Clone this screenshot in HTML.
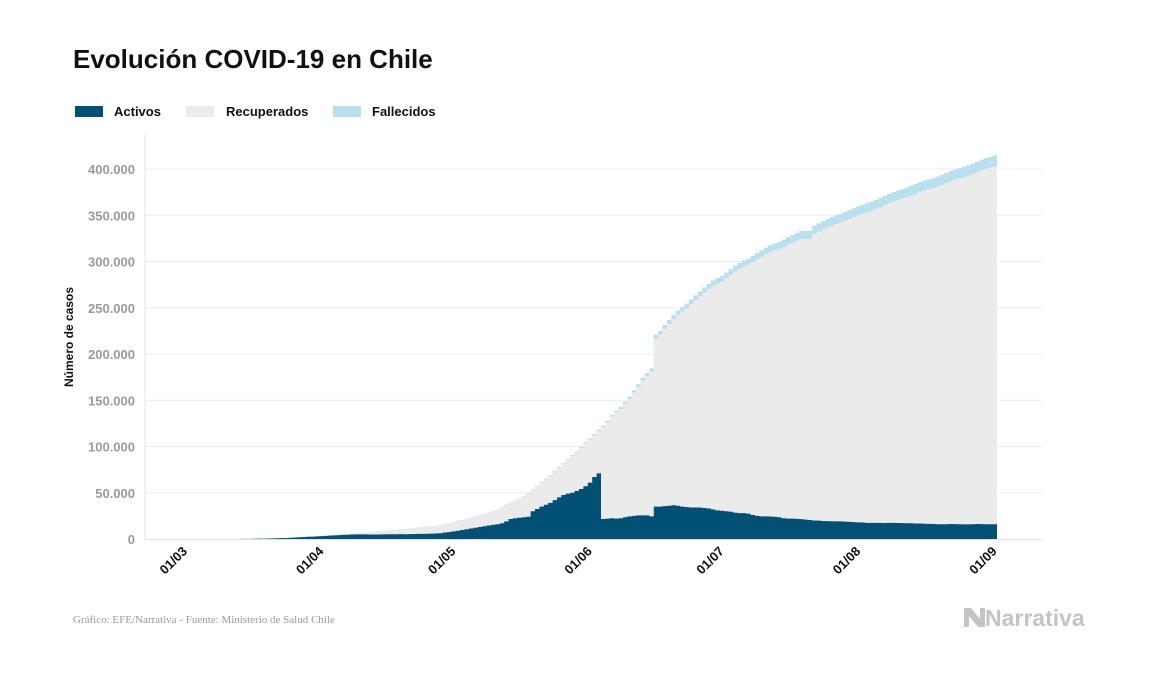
<!DOCTYPE html>
<html><head><meta charset="utf-8">
<style>
html,body{margin:0;padding:0;background:#fff;}
body{width:1157px;height:674px;overflow:hidden;font-family:"Liberation Sans",sans-serif;}
</style></head>
<body>
<svg id="chart" width="1157" height="674" viewBox="0 0 1157 674" xmlns="http://www.w3.org/2000/svg">
  <text x="73" y="68" font-family="Liberation Sans, sans-serif" font-size="26" font-weight="bold" fill="#111">Evolución COVID-19 en Chile</text>
  <g font-family="Liberation Sans, sans-serif" font-size="13" font-weight="bold" fill="#111">
    <g>
      <rect x="75" y="106" width="28" height="11" fill="#025076"/>
      <text x="114" y="116">Activos</text>
    </g>
    <g>
      <rect x="186" y="106" width="28" height="11" fill="#ebebeb"/>
      <text x="226" y="116">Recuperados</text>
    </g>
    <g>
      <rect x="333" y="106" width="28" height="11" fill="#b8e0ef"/>
      <text x="372" y="116">Fallecidos</text>
    </g>
  </g>
  <line x1="145" y1="134" x2="145" y2="539" stroke="#e6e6e6" stroke-width="1"/>
  <g id="grid"></g>
  <g id="areas"></g>
  <g id="xticks"></g>
  <text transform="translate(73,337) rotate(-90)" text-anchor="middle" font-family="Liberation Sans, sans-serif" font-size="12" font-weight="bold" fill="#111">Número de casos</text>
  <text x="73" y="623" font-family="Liberation Serif, serif" font-size="11" fill="#999">Gráfico: EFE/Narrativa - Fuente: Ministerio de Salud Chile</text>
  <g>
    <path d="M964 608 L971 608 L980 619 L980 608 L985 608 L985 627 L978 627 L969 616 L969 627 L964 627 Z" fill="#c4c4c4"/>
    <text x="985" y="626" font-family="Liberation Sans, sans-serif" font-size="23" font-weight="bold" fill="#c4c4c4">Narrativa</text>
  </g>
</svg>
<script>
// Data: day 1 = first plotted day; values in thousands of cases
const casos = [0.001,0.003,0.004,0.005,0.007,0.010,0.013,0.017,0.023,0.033,0.043,0.061,0.075,0.156,0.201,0.238,0.342,0.434,0.537,0.632,0.746,0.922,1.142,1.306,1.610,1.909,2.139,2.449,2.738,
3.031,3.404,3.737,4.161,4.471,4.815,5.116,5.546,5.972,6.501,6.927,7.213,7.525,7.917,8.273,8.807,9.252,9.730,10.088,10.507,10.832,11.296,11.812,12.306,12.858,13.331,13.813,14.365,14.885,16.023,
17.008,18.435,19.663,20.643,22.016,23.048,24.581,25.972,27.219,28.866,30.063,31.721,34.381,37.040,39.542,41.428,43.781,46.059,49.579,53.617,57.581,61.857,65.393,69.102,73.997,77.961,82.289,86.943,90.638,94.858,99.688,
105.159,108.686,113.628,118.292,122.499,127.745,134.150,138.846,142.759,148.496,154.092,160.846,167.355,174.293,179.436,184.449,220.628,225.103,231.393,236.748,242.355,246.963,250.767,254.416,259.064,263.360,267.766,271.982,275.999,279.393,
282.043,284.541,288.089,291.847,295.532,298.557,301.019,303.083,306.216,309.274,312.029,315.041,317.657,319.493,321.205,323.698,326.539,328.846,330.930,333.029,333.0,333.1,338.759,341.304,343.592,345.790,347.923,349.800,351.575,353.536,355.667,
357.658,359.731,361.493,362.962,364.723,366.671,368.825,371.023,373.056,375.044,376.616,378.168,380.034,382.111,383.902,385.946,387.502,388.855,390.037,391.849,393.769,395.708,397.665,399.568,400.985,402.365,404.102,405.972,408.009,409.974,411.726,
413.145,414.739];
const activos = [0.001,0.003,0.004,0.005,0.007,0.010,0.013,0.017,0.023,0.033,0.043,0.061,0.075,0.156,0.201,0.238,0.342,0.434,0.537,0.632,0.746,0.922,1.14,1.30,1.60,1.88,2.10,2.38,2.57,
2.8,3.1,3.4,3.7,3.9,4.2,4.4,4.6,4.8,5.0,5.0,5.0,4.9,4.9,4.8,5.0,5.1,5.2,5.2,5.3,5.2,5.3,5.4,5.5,5.6,5.7,5.8,6.0,6.2,7.0,
7.5,8.2,8.9,9.7,10.5,11.3,12.2,13.0,13.8,14.6,15.3,16.0,17.0,19.0,21.6,22.5,23.0,23.5,24.0,30.0,32.5,35.0,37.0,39.0,42.0,45.0,47.6,49.0,50.0,52.0,54.0,
57.0,61.0,67.0,71.0,21.6,22.0,22.5,22.0,22.5,23.5,24.5,25.0,25.5,25.5,25.5,24.5,35.0,35.0,35.5,36.0,36.5,36.0,35.0,34.5,34.0,34.0,34.0,33.5,33.0,32.0,
31.0,30.5,30.0,29.5,28.5,28.0,28.0,27.5,26.0,25.0,24.5,24.5,24.3,24.0,23.5,22.5,22.0,22.0,21.8,21.5,21.0,20.5,20.0,19.8,19.5,19.3,19.2,19.0,19.0,18.8,18.5,
18.3,18.0,17.8,17.5,17.5,17.5,17.4,17.3,17.5,17.5,17.3,17.2,17.0,17.0,16.8,16.7,16.5,16.3,16.2,16.0,16.0,16.0,16.2,16.1,16.0,15.8,15.8,16.0,16.2,16.1,16.0,
16.0,16.0];
const fallecidos = [0,0,0,0,0,0,0,0,0,0,0,0,0,0,0,0,0,0,0.001,0.001,0.002,0.003,0.003,0.004,0.005,0.006,0.007,0.008,0.009,
0.012,0.016,0.018,0.022,0.027,0.034,0.037,0.043,0.048,0.057,0.065,0.073,0.082,0.092,0.094,0.105,0.116,0.126,0.133,0.139,0.147,0.160,0.168,0.174,0.181,0.189,0.198,0.207,0.216,0.227,
0.234,0.247,0.260,0.270,0.275,0.281,0.285,0.294,0.304,0.312,0.323,0.335,0.346,0.368,0.394,0.421,0.450,0.478,0.509,0.544,0.589,0.630,0.673,0.716,0.761,0.806,0.841,0.890,0.944,0.997,1.054,
1.113,1.188,1.275,1.356,1.448,1.541,1.637,1.808,2.264,2.283,2.475,2.648,2.870,3.101,3.323,3.383,3.615,3.841,4.093,4.295,4.479,4.505,4.731,4.903,5.068,5.347,5.509,5.575,5.688,5.753,
5.920,6.051,6.192,6.308,6.384,6.434,6.573,6.682,6.781,6.881,6.979,7.069,7.186,7.290,7.347,8.347,8.445,8.503,8.633,8.677,8.722,8.838,8.914,8.986,9.092,9.187,9.240,9.278,9.377,9.457,9.533,
9.608,9.707,9.745,9.792,9.889,9.958,10.011,10.077,10.139,10.205,10.240,10.299,10.395,10.513,10.578,10.671,10.723,10.792,10.850,10.916,10.958,11.002,11.072,11.132,11.181,11.244,11.289,11.321,11.344,11.374,11.422,
11.469,11.500];
const yTicks = [0,50,100,150,200,250,300,350,400];
const yTickLabels = ["0","50.000","100.000","150.000","200.000","250.000","300.000","350.000","400.000"];
const xTickDays = [0,31,61,92,122,153,184];
const xTickLabels = ["01/03","01/04","01/05","01/06","01/07","01/08","01/09"];
const firstDay = 1;

const NS = "http://www.w3.org/2000/svg";
const X0 = 183, DX = 4.4, Y0 = 539, YK = 370/400;
function xScale(d){ return X0 + d*DX; }
function yScale(v){ return Y0 - v*YK; }

const grid = document.getElementById('grid');
yTicks.forEach((t,i)=>{
  const y = yScale(t);
  if (t > 0) {
    const l = document.createElementNS(NS,'line');
    l.setAttribute('x1',145); l.setAttribute('x2',1042);
    l.setAttribute('y1',y); l.setAttribute('y2',y);
    l.setAttribute('stroke','#ececec'); l.setAttribute('stroke-width','1');
    
    
    grid.appendChild(l);
  }
  const tx = document.createElementNS(NS,'text');
  tx.setAttribute('x',135); tx.setAttribute('y',y+5);
  tx.setAttribute('text-anchor','end');
  tx.setAttribute('font-family','Liberation Sans, sans-serif');
  tx.setAttribute('font-size','13'); tx.setAttribute('font-weight','bold');
  tx.setAttribute('fill','#9a9a9a');
  tx.textContent = yTickLabels[i];
  
  
  grid.appendChild(tx);
});

function stepPath(vals){
  let d = 'M'+xScale(firstDay)+','+Y0;
  vals.forEach((v,i)=>{
    const xa = xScale(firstDay+i), xb = xScale(firstDay+i+1), y = yScale(v);
    d += ' L'+xa+','+y+' L'+xb+','+y;
  });
  d += ' L'+xScale(firstDay+vals.length)+','+Y0+' Z';
  return d;
}
const topTotal = casos.map((c,i)=>Math.max(c, activos[i]+fallecidos[i]));
const topRec = topTotal.map((t,i)=>t - fallecidos[i]);
const areas = document.getElementById('areas');
const layers = [
  [topTotal,'#b8e0ef','area-fallecidos'],
  [topRec,'#ebebeb','area-recuperados'],
  [activos,'#025076','area-activos']
];
layers.forEach(([vals,col,name])=>{
  const p = document.createElementNS(NS,'path');
  p.setAttribute('d',stepPath(vals));
  p.setAttribute('fill',col);
  
  
  areas.appendChild(p);
});
const base = document.createElementNS(NS,'line');
base.setAttribute('x1',145); base.setAttribute('x2',1042);
base.setAttribute('y1',Y0+0.5); base.setAttribute('y2',Y0+0.5);
base.setAttribute('stroke','#e0e0e0');


areas.appendChild(base);

const xt = document.getElementById('xticks');
xTickDays.forEach((d,i)=>{
  const x = xScale(d);
  const t = document.createElementNS(NS,'text');
  t.setAttribute('transform','translate('+(x+5)+',552) rotate(-45)');
  t.setAttribute('text-anchor','end');
  t.setAttribute('font-family','Liberation Sans, sans-serif');
  t.setAttribute('font-size','13'); t.setAttribute('font-weight','bold');
  t.setAttribute('fill','#111');
  t.textContent = xTickLabels[i];
  
  
  xt.appendChild(t);
});
</script>
</body></html>
